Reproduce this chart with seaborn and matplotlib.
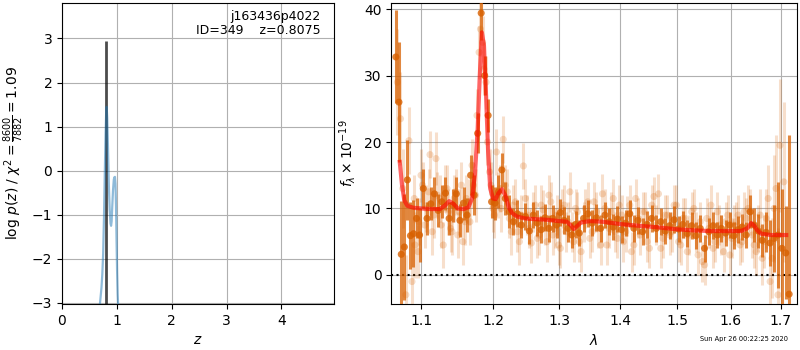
import numpy as np
import pandas as pd
import matplotlib
matplotlib.use("Agg")
import matplotlib.pyplot as plt
import matplotlib.ticker as mticker
import seaborn as sns

# ---------------- data ----------------
obj_name = "j163436p4022"
obj_id = 349
z_best = 0.8075
pz_peak = 2.95
chi2_num = 8600
chi2_den = 7882
chi2_red = 1.09
timestamp = "Sun Apr 26 00:22:25 2020"

pz_z = [0.690, 0.705, 0.720, 0.735, 0.750, 0.765, 0.780, 0.795, 0.805, 0.814,
        0.825, 0.840, 0.855, 0.870, 0.885, 0.895, 0.905, 0.915, 0.930, 0.945,
        0.955, 0.965, 0.975, 0.985, 0.995, 1.005, 1.015, 1.025]
pz_logp = [-3.05, -2.85, -2.65, -2.35, -1.90, -1.10, -0.10, 0.85, 1.30, 1.45,
           1.20, 0.45, -0.35, -0.90, -1.20, -1.25, -1.15, -0.85, -0.45, -0.20,
           -0.15, -0.14, -0.30, -0.80, -1.60, -2.30, -2.80, -3.10]

model_wave = [1.072, 1.075, 1.078, 1.082, 1.090, 1.100, 1.115, 1.125, 1.132, 1.138,
              1.144, 1.150, 1.158, 1.165, 1.170, 1.174, 1.178, 1.181, 1.184, 1.187,
              1.190, 1.193, 1.196, 1.200, 1.204, 1.208, 1.213, 1.218, 1.223, 1.228,
              1.235, 1.247, 1.260, 1.280, 1.300, 1.312, 1.318, 1.323, 1.328, 1.335,
              1.350, 1.370, 1.400, 1.430, 1.460, 1.500, 1.530, 1.560, 1.600, 1.620,
              1.632, 1.640, 1.646, 1.652, 1.660, 1.680, 1.700, 1.711]
model_flux = [17.0, 13.5, 11.2, 10.4, 10.1, 10.0, 9.9, 9.9, 10.4, 11.1,
              10.7, 10.0, 9.9, 10.2, 11.5, 15.0, 22.0, 30.0, 36.5, 34.5,
              27.0, 18.5, 13.0, 11.5, 11.4, 12.3, 12.9, 12.0, 10.2, 9.3,
              8.8, 8.5, 8.4, 8.3, 8.1, 8.0, 7.5, 6.9, 7.3, 7.9,
              8.1, 8.0, 7.65, 7.4, 7.2, 6.85, 6.7, 6.6, 6.6, 6.6,
              7.0, 7.8, 7.4, 6.7, 6.2, 6.0, 6.0, 6.0]

# binned spectrum (strong points)
dark_wave = [1.067, 1.071, 1.074, 1.078, 1.082, 1.086, 1.090, 1.094, 1.098, 1.103,
             1.108, 1.113, 1.118, 1.123, 1.128, 1.133, 1.138, 1.143, 1.148, 1.153,
             1.158, 1.163, 1.168, 1.173, 1.178, 1.183, 1.188, 1.193, 1.198, 1.203,
             1.208, 1.213, 1.218, 1.224, 1.230, 1.236, 1.242, 1.248, 1.254, 1.260,
             1.266, 1.272, 1.278, 1.284, 1.290, 1.296, 1.302, 1.308, 1.314, 1.320,
             1.326, 1.332, 1.339, 1.346, 1.353, 1.360, 1.367, 1.374, 1.381, 1.388,
             1.395, 1.402, 1.409, 1.416, 1.423, 1.430, 1.438, 1.446, 1.454, 1.462,
             1.470, 1.478, 1.486, 1.494, 1.502, 1.510, 1.518, 1.526, 1.534, 1.542,
             1.550, 1.558, 1.566, 1.574, 1.582, 1.590, 1.598, 1.606, 1.614, 1.622,
             1.630, 1.638, 1.646, 1.654, 1.662, 1.670, 1.678, 1.686, 1.694, 1.702,
             1.710, 1.717]
dark_flux = [32.8, 26.0, 3.1, 4.2, 14.3, 5.9, 6.2, 8.5, 6.0, 13.0,
             8.5, 10.7, 12.2, 9.7, 11.0, 12.3, 8.5, 10.5, 12.2, 8.2,
             10.8, 9.0, 15.0, 12.0, 21.3, 39.4, 30.0, 24.0, 11.0, 10.8,
             12.5, 15.8, 11.5, 9.5, 8.0, 9.2, 7.5, 8.8, 6.6, 9.0,
             7.8, 6.8, 8.6, 7.0, 8.5, 7.5, 9.4, 8.2, 7.0, 6.0,
             7.6, 6.3, 8.5, 9.2, 7.8, 8.6, 7.0, 9.0, 8.0, 7.2,
             8.4, 6.8, 7.8, 9.2, 7.0, 8.2, 6.5, 7.6, 8.5, 7.0,
             8.0, 6.6, 7.4, 8.3, 6.9, 7.6, 6.2, 7.4, 5.9, 7.0,
             4.0, 6.5, 7.4, 6.0, 7.0, 6.3, 7.5, 5.9, 6.8, 7.2,
             6.0, 9.5, 7.5, 6.6, 5.2, 6.4, 4.8, 5.5, 6.0, 4.0,
             3.3, -2.9]
dark_err = [7.0, 9.0, 8.0, 8.0, 6.0, 5.0, 5.0, 3.0, 4.0, 3.0,
            2.5, 2.5, 2.5, 2.5, 2.5, 2.5, 2.5, 2.5, 2.5, 2.5,
            2.5, 2.5, 3.0, 3.0, 3.0, 4.0, 3.0, 2.5, 2.5, 2.5,
            2.5, 2.5, 2.5, 2.5, 2.0, 2.0, 2.0, 2.0, 2.0, 2.0,
            2.0, 2.0, 2.0, 2.0, 2.0, 2.0, 2.0, 2.0, 2.0, 2.0,
            2.0, 2.0, 2.0, 2.0, 2.0, 2.0, 2.0, 2.0, 2.0, 2.0,
            2.0, 2.0, 2.0, 2.0, 2.0, 2.0, 2.0, 2.0, 2.0, 2.0,
            2.0, 2.0, 2.0, 2.0, 2.0, 2.0, 2.0, 2.0, 2.0, 2.0,
            2.0, 2.0, 2.0, 2.0, 2.0, 2.0, 2.0, 2.0, 2.0, 2.0,
            2.0, 2.5, 2.5, 2.5, 2.5, 3.0, 3.5, 5.0, 8.0, 9.0,
            7.0, 24.0]

# unbinned spectra (faint points)
light_wave = [1.069, 1.073, 1.076, 1.080, 1.084, 1.088, 1.092, 1.096, 1.100, 1.105,
              1.110, 1.115, 1.120, 1.125, 1.130, 1.135, 1.140, 1.145, 1.150, 1.155,
              1.160, 1.165, 1.170, 1.175, 1.180, 1.185, 1.190, 1.195, 1.200, 1.205,
              1.210, 1.215, 1.221, 1.227, 1.233, 1.239, 1.245, 1.251, 1.257, 1.263,
              1.269, 1.275, 1.281, 1.287, 1.293, 1.299, 1.305, 1.311, 1.317, 1.323,
              1.329, 1.335, 1.342, 1.349, 1.356, 1.363, 1.370, 1.377, 1.384, 1.391,
              1.398, 1.405, 1.412, 1.419, 1.426, 1.434, 1.442, 1.450, 1.458, 1.466,
              1.474, 1.482, 1.490, 1.498, 1.506, 1.514, 1.522, 1.530, 1.538, 1.546,
              1.554, 1.562, 1.570, 1.578, 1.586, 1.594, 1.602, 1.610, 1.618, 1.626,
              1.634, 1.642, 1.650, 1.658, 1.666, 1.674, 1.682, 1.690, 1.698, 1.706]
light_flux = [29.0, 23.5, 13.0, -3.0, 20.2, -1.0, 4.5, 3.5, 15.0, 7.5,
              12.5, 6.5, 17.5, 11.5, 4.5, 13.0, 7.0, 11.5, 6.0, 13.5,
              8.0, 11.0, 16.5, 12.0, 33.5, 35.0, 29.0, 15.5, 10.0, 18.5,
              13.0, 20.4, 12.5, 6.5, 11.0, 5.0, 16.4, 9.0, 4.8, 10.5,
              6.0, 9.8, 5.0, 11.0, 7.0, 4.5, 10.0, 6.5, 12.5, 5.0,
              9.5, 3.5, 10.0, 5.5, 11.0, 7.0, 12.2, 4.5, 9.5, 6.5,
              10.5, 5.0, 8.8, 3.5, 11.5, 6.0, 9.5, 4.0, 11.8, 12.2,
              5.5, 9.0, 6.5, 10.5, 4.5, 8.5, 6.0, 10.0, 3.0, 2.0,
              8.5, 10.5, 5.0, 7.5, 3.5, 9.0, 5.5, 8.0, 4.5, 9.5,
              10.0, 6.0, 3.5, 9.0, 5.0, 11.5, 2.5, 13.0, 19.5, 14.0]
light_err = [8.0, 7.0, 6.0, 6.0, 5.0, 6.0, 5.0, 4.0, 4.0, 3.5,
             3.5, 3.5, 4.0, 3.5, 3.5, 3.5, 3.5, 3.5, 3.5, 3.5,
             3.5, 3.5, 4.0, 4.0, 4.0, 4.0, 4.0, 3.5, 3.5, 3.5,
             3.5, 3.5, 3.5, 3.5, 3.5, 3.5, 3.5, 3.0, 3.0, 3.0,
             3.0, 3.0, 3.0, 3.0, 3.0, 3.0, 3.0, 3.0, 3.0, 3.0,
             3.0, 3.0, 3.0, 3.0, 3.0, 3.0, 3.0, 3.0, 3.0, 3.0,
             3.0, 3.0, 3.0, 3.0, 3.0, 3.0, 3.0, 3.0, 3.0, 3.0,
             3.0, 3.0, 3.0, 3.0, 3.0, 3.0, 3.0, 3.0, 3.0, 3.0,
             3.0, 3.0, 3.0, 3.0, 3.0, 3.0, 3.0, 3.0, 3.0, 3.0,
             3.5, 3.5, 3.5, 4.0, 4.0, 5.0, 6.0, 8.0, 10.0, 12.0]

light2_wave = [1.091, 1.097, 1.102, 1.107, 1.112, 1.117, 1.122, 1.127, 1.132, 1.137,
               1.142, 1.147, 1.152, 1.157, 1.162, 1.167, 1.172, 1.177, 1.182, 1.187,
               1.192, 1.197, 1.202, 1.207, 1.212, 1.218, 1.224, 1.230, 1.236, 1.242,
               1.248, 1.254, 1.260, 1.266, 1.272, 1.278, 1.284, 1.290, 1.296, 1.302,
               1.308, 1.314, 1.320, 1.326, 1.332, 1.339, 1.346, 1.353, 1.360, 1.367,
               1.374, 1.381, 1.388, 1.395, 1.402, 1.409, 1.416, 1.423, 1.430, 1.438,
               1.446, 1.454, 1.462, 1.470, 1.478, 1.486, 1.494, 1.502, 1.510, 1.518,
               1.526, 1.534, 1.542, 1.550, 1.558, 1.566, 1.574, 1.582, 1.590, 1.598,
               1.606, 1.614, 1.622, 1.630, 1.638, 1.646, 1.654, 1.662, 1.670, 1.678,
               1.686, 1.694]
light2_flux = [11.5, 8.0, 13.5, 10.0, 18.1, 9.0, 12.0, 7.5, 13.0, 9.5,
               6.5, 12.5, 9.5, 5.0, 11.5, 8.0, 13.5, 24.0, 37.0, 31.0,
               20.0, 13.5, 9.0, 12.0, 10.0, 13.5, 8.5, 10.5, 6.5, 9.0,
               11.5, 7.0, 9.5, 5.5, 10.5, 7.5, 12.0, 6.0, 9.0, 4.0,
               10.5, 8.0, 6.5, 10.0, 5.0, 8.0, 11.0, 6.5, 9.5, 4.5,
               10.0, 7.0, 11.5, 5.5, 9.0, 6.5, 10.5, 4.5, 8.5, 9.5,
               5.0, 10.5, 7.5, 4.0, 9.0, 6.0, 10.5, 5.0, 8.5, 3.5,
               9.5, 6.5, 8.0, 1.5, 7.0, 4.0, 9.5, 6.0, 8.0, 3.0,
               7.5, 9.0, 5.0, 8.5, 9.5, 4.5, 7.0, 2.5, 8.5, -1.0,
               10.0, -3.0]
light2_err = [3.5, 3.5, 3.5, 3.5, 3.5, 3.5, 3.5, 3.5, 3.5, 3.5,
              3.5, 3.5, 3.5, 3.5, 3.5, 3.5, 3.5, 4.0, 4.0, 4.0,
              3.5, 3.5, 3.5, 3.5, 3.5, 3.0, 3.0, 3.0, 3.0, 3.0,
              3.0, 3.0, 3.0, 3.0, 3.0, 3.0, 3.0, 3.0, 3.0, 3.0,
              3.0, 3.0, 3.0, 3.0, 3.0, 3.0, 3.0, 3.0, 3.0, 3.0,
              3.0, 3.0, 3.0, 3.0, 3.0, 3.0, 3.0, 3.0, 3.0, 3.0,
              3.0, 3.0, 3.0, 3.0, 3.0, 3.0, 3.0, 3.0, 3.0, 3.0,
              3.0, 3.0, 3.0, 3.0, 3.0, 3.0, 3.0, 3.0, 3.0, 3.0,
              3.0, 3.0, 3.0, 3.0, 3.5, 3.5, 3.5, 4.0, 4.5, 6.0,
              8.0, 10.0]

wave_ticks = [1.1, 1.2, 1.3, 1.4, 1.5, 1.6, 1.7]
flux_ticks = [0, 10, 20, 30, 40]
z_ticks = [0, 1, 2, 3, 4]
logp_ticks = [-3, -2, -1, 0, 1, 2, 3]

# ---------------- figure ----------------
fig = plt.figure(figsize=(8, 3.5), dpi=100)
ax1 = fig.add_axes([0.0775, 0.132, 0.340, 0.860])
ax2 = fig.add_axes([0.489, 0.132, 0.507, 0.860])

# left: p(z)
ylo, yhi = -3.02, 3.81
ax1.vlines(z_best, ylo, pz_peak, color='k', alpha=0.7, lw=2, zorder=3)
pz_df = pd.DataFrame({'z': pz_z, 'logp': pz_logp})
sns.lineplot(data=pz_df, x='z', y='logp', ax=ax1, color='tab:blue', alpha=0.5,
             lw=1.6, sort=False, zorder=4)
ax1.set_xlim(0, 4.96)
ax1.set_ylim(ylo, yhi)
ax1.set_xticks(z_ticks)
ax1.set_yticks(logp_ticks)
ax1.grid(True, color='#b0b0b0', lw=0.8)
ax1.set_axisbelow(True)
ax1.set_xlabel('$z$')
ax1.set_ylabel(r'log $p(z)$ / $\chi^2=\frac{%d}{%d}=%.2f$' % (chi2_num, chi2_den, chi2_red))
ax1.text(0.95, 0.975, '%s\nID=%d    z=%.4f' % (obj_name, obj_id, z_best),
         transform=ax1.transAxes, ha='right', va='top', fontsize=9,
         multialignment='right', linespacing=1.1)

# right: spectrum
col = '#d86000'
ax2.axhline(0, color='k', ls=':', lw=1.5, zorder=2)
for w, f, e in [(light_wave, light_flux, light_err), (light2_wave, light2_flux, light2_err)]:
    ax2.errorbar(w, f, yerr=e, fmt='none', ecolor=col, alpha=0.2, elinewidth=2.2, zorder=3)
    sns.scatterplot(x=w, y=f, ax=ax2, color=col, alpha=0.22, s=26, edgecolor='none',
                    zorder=3, legend=False)
ax2.errorbar(dark_wave, dark_flux, yerr=dark_err, fmt='none', ecolor=col, alpha=0.75,
             elinewidth=2.2, zorder=4)
sns.scatterplot(x=dark_wave, y=dark_flux, ax=ax2, color=col, alpha=0.8, s=26,
                edgecolor='none', zorder=5, legend=False)
model_df = pd.DataFrame({'wave': model_wave, 'flux': model_flux})
sns.lineplot(data=model_df, x='wave', y='flux', ax=ax2, color='red', alpha=0.6,
             lw=3, zorder=10)

ax2.set_xscale('log')
ax2.set_xlim(1.061, 1.733)
ax2.set_ylim(-4.35, 40.95)
ax2.xaxis.set_major_locator(mticker.FixedLocator(wave_ticks))
ax2.xaxis.set_major_formatter(mticker.FixedFormatter(['%.1f' % t for t in wave_ticks]))
ax2.xaxis.set_minor_locator(mticker.NullLocator())
ax2.set_yticks(flux_ticks)
ax2.grid(True, color='#b0b0b0', lw=0.8)
ax2.set_axisbelow(True)
ax2.set_xlabel(r'$\lambda$')
ax2.set_ylabel(r'$f_\lambda \times 10^{-19}$')

fig.text(0.985, 0.031, timestamp, ha='right', va='center', fontsize=4.8)

fig.savefig('out.png', dpi=100)
